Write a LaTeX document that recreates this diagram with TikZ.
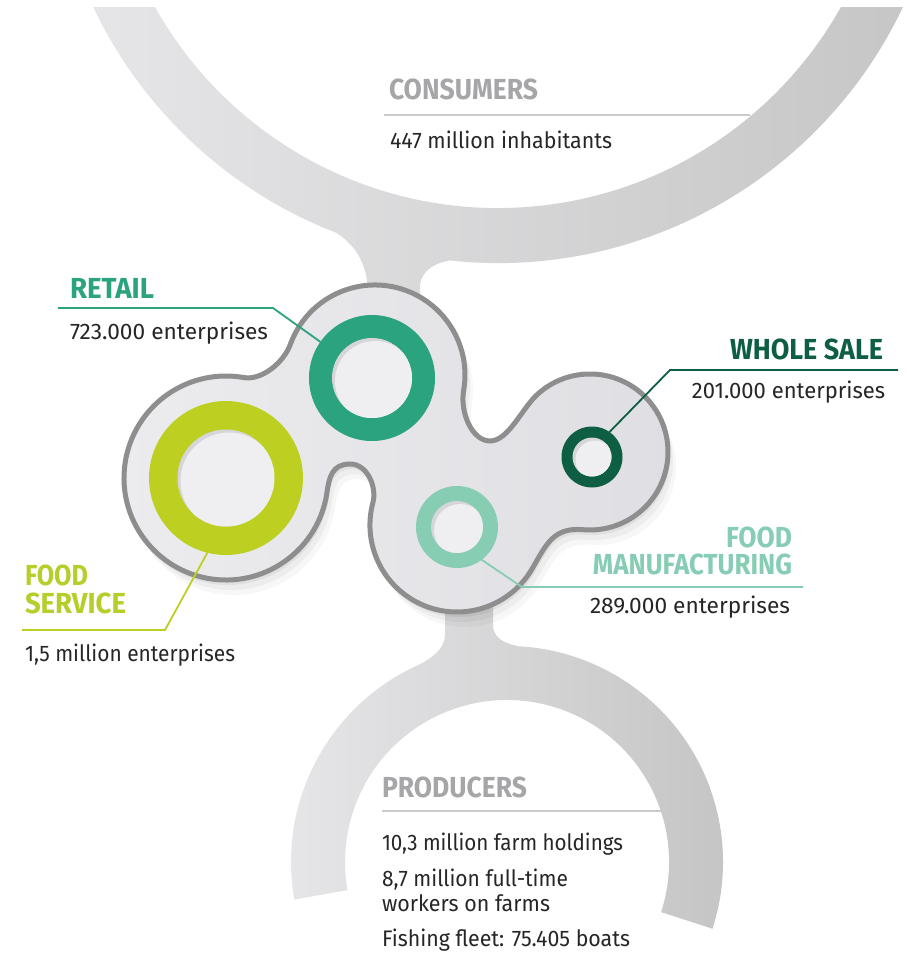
\documentclass[tikz,border=0pt]{standalone}
\usepackage{fontspec}
\setmainfont{Fira Sans}
\usepackage{graphicx}
\definecolor{retail}{HTML}{2AA37E}
\definecolor{fserv}{HTML}{BDD022}
\definecolor{fservtxt}{HTML}{B6CD2A}
\definecolor{whole}{HTML}{0D5E42}
\definecolor{manuf}{HTML}{86CDB4}
\definecolor{headgray}{HTML}{A6A6A9}
\definecolor{bodytxt}{HTML}{262626}
\definecolor{arcL}{HTML}{E7E7E9}
\definecolor{arcR}{HTML}{C5C5C6}
\definecolor{blobL}{HTML}{ECECEF}
\definecolor{blobR}{HTML}{DFDFE3}
\definecolor{blobline}{HTML}{8E8E8E}
\definecolor{hole}{HTML}{EFEFF2}
\definecolor{holeshade}{HTML}{D6D6DA}
\definecolor{rulegray}{HTML}{CACACD}
\newcommand{\fitw}[2]{\resizebox{#1pt}{\height}{#2}}
\newcommand{\blobpath}{(290.4,344.2) arc[start angle=200,end angle=370,radius=90]
 .. controls (459.8,412.3) and (472,441) .. (490,441)
 .. controls (508,441) and (521.8,409.2) .. (536.3,395.4)
 arc[start angle=226.5,end angle=455,radius=78]
 .. controls (553.3,527.1) and (546.3,544.3) .. (532.3,568.5)
 arc[start angle=30,end angle=195,radius=87]
 .. controls (376.9,488) and (368,464) .. (350,464)
 .. controls (332,464) and (329.1,477.4) .. (327,492.2)
 arc[start angle=8,end angle=280,radius=102]
 .. controls (261.4,380.6) and (283.6,363) .. (290.4,344.2) -- cycle}
% inner disk with a soft shadow on its upper left edge
\newcommand{\holedisk}[2]{%
  \begin{scope}
    \clip (#1) circle[radius=#2];
    \fill[holeshade] (#1) circle[radius=#2];
    \fill[hole] ($(#1)+(3,3)$) circle[radius=#2];
  \end{scope}}
\usetikzlibrary{calc}
\tikzset{
  headtxt/.style={font=\fontsize{29}{29}\selectfont\bfseries, inner sep=0pt, outer sep=0pt},
  bodytxt/.style={font=\fontsize{22.5}{22.5}\selectfont, text=bodytxt, inner sep=0pt, outer sep=0pt},
  leader/.style={line width=1.8pt, line join=miter},
  ruleline/.style={rulegray, line width=2.5pt},
  ringnode/.style={circle, inner sep=0pt, outer sep=0pt, draw=none},
  band/.style={left color=arcL, right color=arcR},
}
\begin{document}
\begin{tikzpicture}[x=1pt,y=-1pt]
\useasboundingbox (0,0) rectangle (906,955);
\fill[white] (0,0) rectangle (906,955);

% consumers arc with its stem
\begin{scope}
\clip (0,8) rectangle (906,955);
\shade[band] (939.2,-107.2) arc[start angle=10,end angle=170,radius=448] -- ++(170:-55) arc[start angle=170,end angle=10,radius=393] -- cycle
  (367,310) -- (367,280) .. controls (364,262) and (356,245) .. (335,232) -- (335,215) -- (470,215) -- (462,259) .. controls (440,260) and (422,268) .. (420,285) -- (420,310) -- cycle;
\end{scope}
% producers arc with its stem
\shade[band] (294.3,899.5) arc[start angle=170,end angle=378,radius=216] -- ++(18:-54) arc[start angle=378,end angle=170,radius=162] -- cycle
  (493,600) -- (493,625) .. controls (493,640) and (508,646) .. (532,648) -- (545,690) -- (410,690) -- (405,672) .. controls (430,660) and (445,650) .. (445,635) -- (445,600) -- cycle;

% blob shadow
\fill[black, opacity=0.03, shift={(8,15)}] \blobpath;
\fill[black, opacity=0.04, shift={(5,10)}] \blobpath;
\fill[black, opacity=0.05, shift={(2,5)}] \blobpath;
% blob
\shade[left color=blobL, right color=blobR] \blobpath;
\draw[blobline, line width=5pt] \blobpath;

% rings
\node[ringnode, fill=retail, minimum size=126pt] (rtring) at (372,378) {};
\node[ringnode, minimum size=80pt] (rthole) at (372,378) {};
\holedisk{rthole.center}{40}
\node[ringnode, fill=fserv, minimum size=154pt] (fsring) at (226,478) {};
\node[ringnode, minimum size=97pt] (fshole) at (226,478) {};
\holedisk{fshole.center}{48.5}
\node[ringnode, fill=whole, minimum size=61pt] (wsring) at (592,457) {};
\node[ringnode, minimum size=39pt] (wshole) at (592,457) {};
\holedisk{wshole.center}{19.5}
\node[ringnode, fill=manuf, minimum size=82pt] (mfring) at (457,527) {};
\node[ringnode, minimum size=52pt] (mfhole) at (457,527) {};
\holedisk{mfhole.center}{26}

% leader coordinates
\coordinate (rtk) at (273,308); \coordinate (rte) at (58,308);
\coordinate (fsk) at (165,630); \coordinate (fse) at (22,630);
\coordinate (wsk) at (670,370); \coordinate (wse) at (898,370);
\coordinate (mfk) at (522,587); \coordinate (mfe) at (803,587);
\coordinate (cs) at (384,115); \coordinate (ce) at (750,115);
\coordinate (ps) at (382,811); \coordinate (pe) at (662,811);

\draw[leader, retail] (rtring.145) -- (rtk) -- (rte);
\draw[leader, fserv] (fsring.256) -- (fsk) -- (fse);
\draw[leader, whole] (wsring.55) -- (wsk) -- (wse);
\draw[leader, manuf] (mfring.-53) -- (mfk) -- (mfe);
\draw[ruleline] (cs) -- (ce);
\draw[ruleline] (ps) -- (pe);

% texts
\node[headtxt, text=headgray, anchor=base west] (consh) at (389,100) {\fitw{149}{CONSUMERS}};
\node[bodytxt, anchor=base west] (consb) at (390,149) {\fitw{222}{447 million inhabitants}};

\node[headtxt, text=retail, anchor=base west] (rth) at (70,298) {\fitw{84}{RETAIL}};
\node[bodytxt, anchor=base west] (rtb) at (70,339) {\fitw{198}{723.000 enterprises}};

\node[headtxt, text=whole, anchor=base east] (wsh) at (883,359) {\fitw{153}{WHOLE SALE}};
\node[bodytxt, anchor=base east] (wsb) at (885,398) {\fitw{193}{201.000 enterprises}};

\node[headtxt, text=manuf, anchor=base east] (mfh1) at (792,547) {\fitw{66}{FOOD}};
\node[headtxt, text=manuf, anchor=base east] (mfh2) at (792,574) {\fitw{199}{MANUFACTURING}};
\node[bodytxt, anchor=base east] (mfb) at (790,613) {\fitw{200}{289.000 enterprises}};

\node[headtxt, text=fservtxt, anchor=base west] (fsh1) at (25,585) {\fitw{63}{FOOD}};
\node[headtxt, text=fservtxt, anchor=base west] (fsh2) at (25,613) {\fitw{101}{SERVICE}};
\node[bodytxt, anchor=base west] (fsb) at (25,661) {\fitw{210}{1,5 million enterprises}};

\node[headtxt, text=headgray, anchor=base west] (prh) at (382,797) {\fitw{145}{PRODUCERS}};
\node[bodytxt, anchor=base west] (pr1) at (382,850) {\fitw{241}{10,3 million farm holdings}};
\node[bodytxt, anchor=base west] (pr2) at (382,886) {\fitw{186}{8,7 million full-time}};
\node[bodytxt, anchor=base west] (pr3) at (382,911) {\fitw{168}{workers on farms}};
\node[bodytxt, anchor=base west] (pr4) at (382,946) {\fitw{248}{Fishing fleet: 75.405 boats}};
\end{tikzpicture}
\end{document}
